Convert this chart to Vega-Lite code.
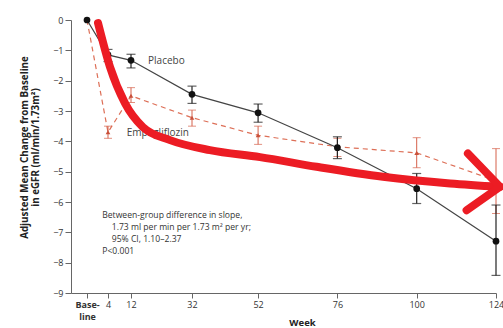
{
  "$schema": "https://vega.github.io/schema/vega-lite/v6.json",
  "width": 425,
  "height": 273,
  "autosize": {"type": "none"},
  "padding": {"left": 71, "top": 20, "right": 7, "bottom": 35},
  "background": "white",
  "config": {
    "view": {"stroke": null},
    "font": "Open Sans",
    "axis": {"grid": false, "domainColor": "#666", "tickColor": "#666", "labelColor": "#333", "titleColor": "#222", "labelFont": "Open Sans", "titleFont": "Open Sans"}
  },
  "datasets": {
    "egfr": [
      {"group": "Placebo", "week": 0, "mean": 0, "lo": null, "hi": null},
      {"group": "Placebo", "week": 4, "mean": -1.15, "lo": -1.37, "hi": -0.97},
      {"group": "Placebo", "week": 12, "mean": -1.33, "lo": -1.58, "hi": -1.13},
      {"group": "Placebo", "week": 32, "mean": -2.45, "lo": -2.75, "hi": -2.18},
      {"group": "Placebo", "week": 52, "mean": -3.06, "lo": -3.37, "hi": -2.77},
      {"group": "Placebo", "week": 76, "mean": -4.21, "lo": -4.57, "hi": -3.85},
      {"group": "Placebo", "week": 100, "mean": -5.56, "lo": -6.05, "hi": -5.06},
      {"group": "Placebo", "week": 124, "mean": -7.29, "lo": -8.42, "hi": -6.1},
      {"group": "Empagliflozin", "week": 0, "mean": 0, "lo": null, "hi": null},
      {"group": "Empagliflozin", "week": 4, "mean": -3.7, "lo": -3.9, "hi": -3.5},
      {"group": "Empagliflozin", "week": 12, "mean": -2.5, "lo": -2.72, "hi": -2.23},
      {"group": "Empagliflozin", "week": 32, "mean": -3.22, "lo": -3.5, "hi": -2.97},
      {"group": "Empagliflozin", "week": 52, "mean": -3.8, "lo": -4.1, "hi": -3.5},
      {"group": "Empagliflozin", "week": 76, "mean": -4.18, "lo": -4.5, "hi": -3.9},
      {"group": "Empagliflozin", "week": 100, "mean": -4.38, "lo": -4.87, "hi": -3.88},
      {"group": "Empagliflozin", "week": 124, "mean": -5.3, "lo": -6.38, "hi": -4.24}
    ],
    "arrowShaft": [
      {"seq": 1, "week": 2.1, "value": -0.1},
      {"seq": 2, "week": 4.7, "value": -1.55},
      {"seq": 3, "week": 9.9, "value": -2.74},
      {"seq": 4, "week": 15.9, "value": -3.53},
      {"seq": 5, "week": 24.8, "value": -3.96},
      {"seq": 6, "week": 37.4, "value": -4.29},
      {"seq": 7, "week": 52.6, "value": -4.52},
      {"seq": 8, "week": 69.7, "value": -4.84},
      {"seq": 9, "week": 89.8, "value": -5.17},
      {"seq": 10, "week": 110.1, "value": -5.39},
      {"seq": 11, "week": 125.2, "value": -5.5}
    ],
    "arrowHead": [
      {"seq": 1, "week": 115.5, "value": -4.4},
      {"seq": 2, "week": 125.2, "value": -5.5},
      {"seq": 3, "week": 115.1, "value": -6.27}
    ],
    "labels": [
      {"week": 17.6, "value": -1.35, "text": "Placebo"},
      {"week": 10.5, "value": -3.72, "text": "Empagliflozin"}
    ],
    "note": [
      {"week": 2.9, "value": -6.44, "text": "Between-group difference in slope,"},
      {"week": 5.3, "value": -6.83, "text": "1.73 ml per min per 1.73 m² per yr;"},
      {"week": 5.3, "value": -7.23, "text": "95% CI, 1.10–2.37"},
      {"week": 2.9, "value": -7.62, "text": "P<0.001"}
    ]
  },
  "encoding": {
    "x": {
      "field": "week", "type": "quantitative",
      "scale": {"domain": [-4.8, 0, 4, 12, 32, 124], "range": [0, 16, 37, 60, 121, 425], "nice": false, "zero": false},
      "axis": {
        "values": [0, 4, 12, 32, 52, 76, 100, 124],
        "title": "Week", "titleFontWeight": "bold", "titleFontSize": 9.5,
        "titleX": 231, "titleY": 24, "titleBaseline": "top",
        "labelExpr": "datum.value == 0 ? ['Base-', 'line'] : datum.label",
        "labelFontWeight": {"expr": "datum.value == 0 ? 'bold' : 'normal'"},
        "labelFontSize": 9, "labelLineHeight": 12, "labelPadding": 2, "tickSize": 5, "labelFlush": false
      }
    },
    "y": {
      "type": "quantitative",
      "scale": {"domain": [-9, 0], "nice": false, "zero": false},
      "axis": {
        "values": [0, -1, -2, -3, -4, -5, -6, -7, -8, -9],
        "title": ["Adjusted Mean Change from Baseline", "in eGFR (ml/min/1.73m²)"],
        "titleFontWeight": "bold", "titleFontSize": 9.8, "titleLineHeight": 11,
        "titleY": 127, "titlePadding": 12,
        "labelFontSize": 9, "tickSize": 6, "labelPadding": 2
      }
    }
  },
  "layer": [
    {
      "data": {"name": "egfr"},
      "transform": [{"filter": "datum.group == 'Empagliflozin'"}],
      "mark": {"type": "line", "color": "#dd6f57", "strokeWidth": 1.2, "strokeDash": [5, 4]},
      "encoding": {"y": {"field": "mean"}}
    },
    {
      "data": {"name": "egfr"},
      "transform": [{"filter": "datum.group == 'Empagliflozin' && datum.lo != null"}],
      "mark": {"type": "errorbar", "ticks": {"size": 8, "color": "#d5614a"}, "color": "#d5614a", "thickness": 1},
      "encoding": {"y": {"field": "lo"}, "y2": {"field": "hi"}}
    },
    {
      "data": {"name": "egfr"},
      "transform": [{"filter": "datum.group == 'Empagliflozin'"}],
      "mark": {"type": "point", "shape": "triangle-up", "filled": true, "color": "#c9503a", "size": 22, "opacity": 1},
      "encoding": {"y": {"field": "mean"}}
    },
    {
      "data": {"name": "egfr"},
      "transform": [{"filter": "datum.group == 'Placebo'"}],
      "mark": {"type": "line", "color": "#444", "strokeWidth": 1.2},
      "encoding": {"y": {"field": "mean"}}
    },
    {
      "data": {"name": "egfr"},
      "transform": [{"filter": "datum.group == 'Placebo' && datum.lo != null"}],
      "mark": {"type": "errorbar", "ticks": {"size": 9, "color": "#222"}, "color": "#222", "thickness": 1.2},
      "encoding": {"y": {"field": "lo"}, "y2": {"field": "hi"}}
    },
    {
      "data": {"name": "egfr"},
      "transform": [{"filter": "datum.group == 'Placebo'"}],
      "mark": {"type": "circle", "color": "#111", "size": 45, "opacity": 1},
      "encoding": {"y": {"field": "mean"}}
    },
    {
      "data": {"name": "labels"},
      "mark": {"type": "text", "align": "left", "baseline": "middle", "fontSize": 10, "color": "#444"},
      "encoding": {"y": {"field": "value"}, "text": {"field": "text"}}
    },
    {
      "data": {"name": "note"},
      "mark": {"type": "text", "align": "left", "baseline": "middle", "fontSize": 8.6, "color": "#333"},
      "encoding": {"y": {"field": "value"}, "text": {"field": "text"}}
    },
    {
      "data": {"name": "arrowShaft"},
      "mark": {"type": "line", "color": "#ec1c24", "strokeWidth": 8, "strokeCap": "round", "strokeJoin": "round", "interpolate": "monotone", "clip": false},
      "encoding": {"y": {"field": "value"}, "order": {"field": "seq"}}
    },
    {
      "data": {"name": "arrowHead"},
      "mark": {"type": "line", "color": "#ec1c24", "strokeWidth": 8, "strokeCap": "round", "strokeJoin": "miter", "clip": false},
      "encoding": {"y": {"field": "value"}, "order": {"field": "seq"}}
    }
  ]
}
